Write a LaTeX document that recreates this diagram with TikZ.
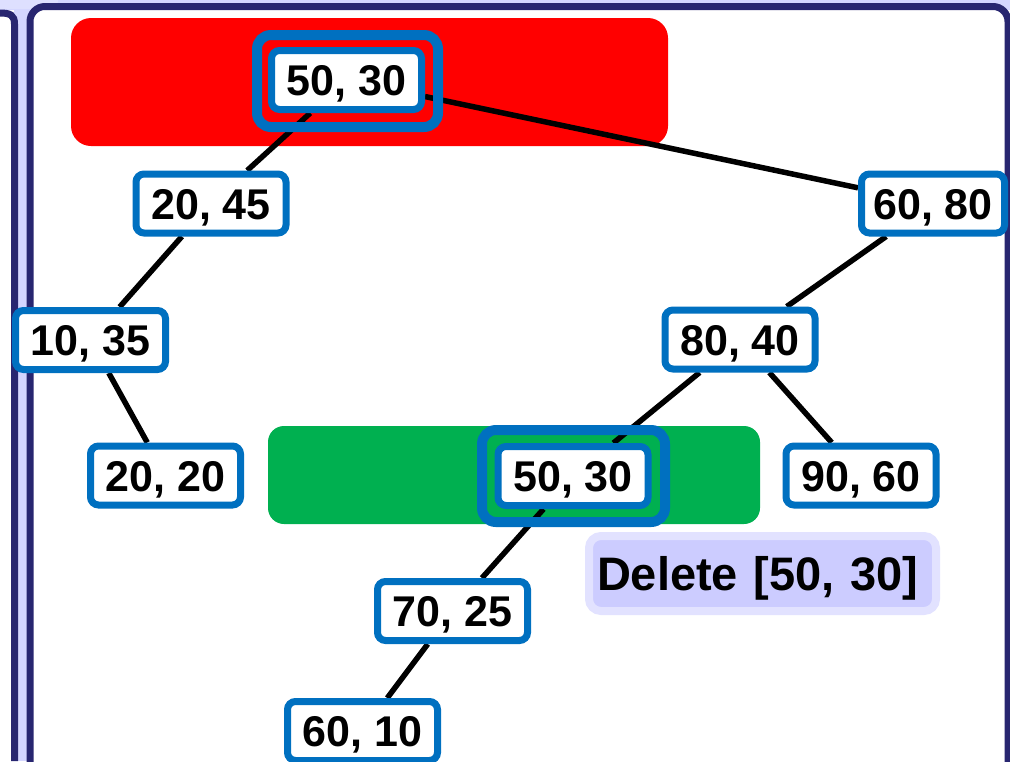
\documentclass[tikz,border=0pt]{standalone}
\usepackage{fontspec}
\setmainfont{Liberation Sans}
\definecolor{navy}{RGB}{40,38,112}
\definecolor{lav}{RGB}{212,214,255}
\definecolor{lavlight}{RGB}{222,224,255}
\definecolor{nodeblue}{RGB}{0,112,192}
\definecolor{hlred}{RGB}{255,0,0}
\definecolor{hlgreen}{RGB}{0,176,80}
\definecolor{lblfill}{RGB}{204,204,255}
\definecolor{lblborder}{RGB}{226,226,255}
\pgfdeclarelayer{bg}
\pgfdeclarelayer{edges}
\pgfsetlayers{bg,edges,main}
\tikzset{
  tnode/.style={draw=nodeblue, line width=7pt, fill=white, rounded corners=8pt,
    minimum width=150pt, minimum height=59pt, inner sep=0pt,
    text height=31pt, text depth=0pt,
    font=\fontsize{43}{50}\selectfont\bfseries},
  edge/.style={line width=5.5pt, black},
  ring/.style={draw=nodeblue, line width=10pt, rounded corners=14pt},
  lbl/.style={draw=lblborder, fill=lblfill, line width=8pt, rounded corners=12pt,
    minimum height=75pt, text width=331pt, inner xsep=8pt, align=left,
    text height=34pt, text depth=0pt,
    font=\fontsize{47}{56}\selectfont\bfseries}
}
\begin{document}
\begin{tikzpicture}[x=1pt,y=-1pt]
\useasboundingbox (0,0) rectangle (1010,761);
\clip (0,0) rectangle (1010,761);
\begin{pgfonlayer}{bg}
  % frame
  \fill[lav] (0,0) rectangle (1010,10);
  \fill[lav] (14,0) rectangle (30,761);
  \fill[lavlight, rounded corners=8pt] (-20,-20) rectangle (58,9);
  \draw[navy, line width=7pt, rounded corners=15pt, fill=white] (30,6.5) rectangle (1008,800);
  \draw[navy, line width=7pt] (14.5,761) -- (14.5,24) .. controls (14.5,15) and (10,13) .. (0,13);
  % highlights
  \fill[hlred, rounded corners=20pt] (71,18) rectangle (668,146);
  \fill[hlgreen, rounded corners=16pt] (268,426) rectangle (760,524);
\end{pgfonlayer}

\node[tnode] (r) at (346.5,80) {50, 30};
\node[tnode] (a) at (211,203.5) {20, 45};
\node[tnode, minimum width=143pt] (b) at (933,203.5) {60, 80};
\node[tnode] (c) at (90.5,340) {10, 35};
\node[tnode] (d) at (740,339.5) {80, 40};
\node[tnode] (e) at (165.5,475.5) {20, 20};
\node[tnode] (g) at (573,476) {50, 30};
\node[tnode] (h) at (861,475.5) {90, 60};
\node[tnode] (i) at (452.5,611) {70, 25};
\node[tnode] (j) at (362.5,731) {60, 10};

\draw[ring] (257,35) rectangle (438,127);
\draw[ring] (482,430) rectangle (665,522);

\node[lbl] (del) at (762.5,573.5) {Delete [50, 30]};

\begin{pgfonlayer}{edges}
  \draw[edge] (r) -- (a);
  \draw[edge] (r) -- (b);
  \draw[edge] (a) -- (c);
  \draw[edge] (c) -- (e);
  \draw[edge] (b) -- (d);
  \draw[edge] (d) -- (g);
  \draw[edge] (d) -- (h);
  \draw[edge] (g) -- (i);
  \draw[edge] (i) -- (j);
\end{pgfonlayer}
\end{tikzpicture}
\end{document}
